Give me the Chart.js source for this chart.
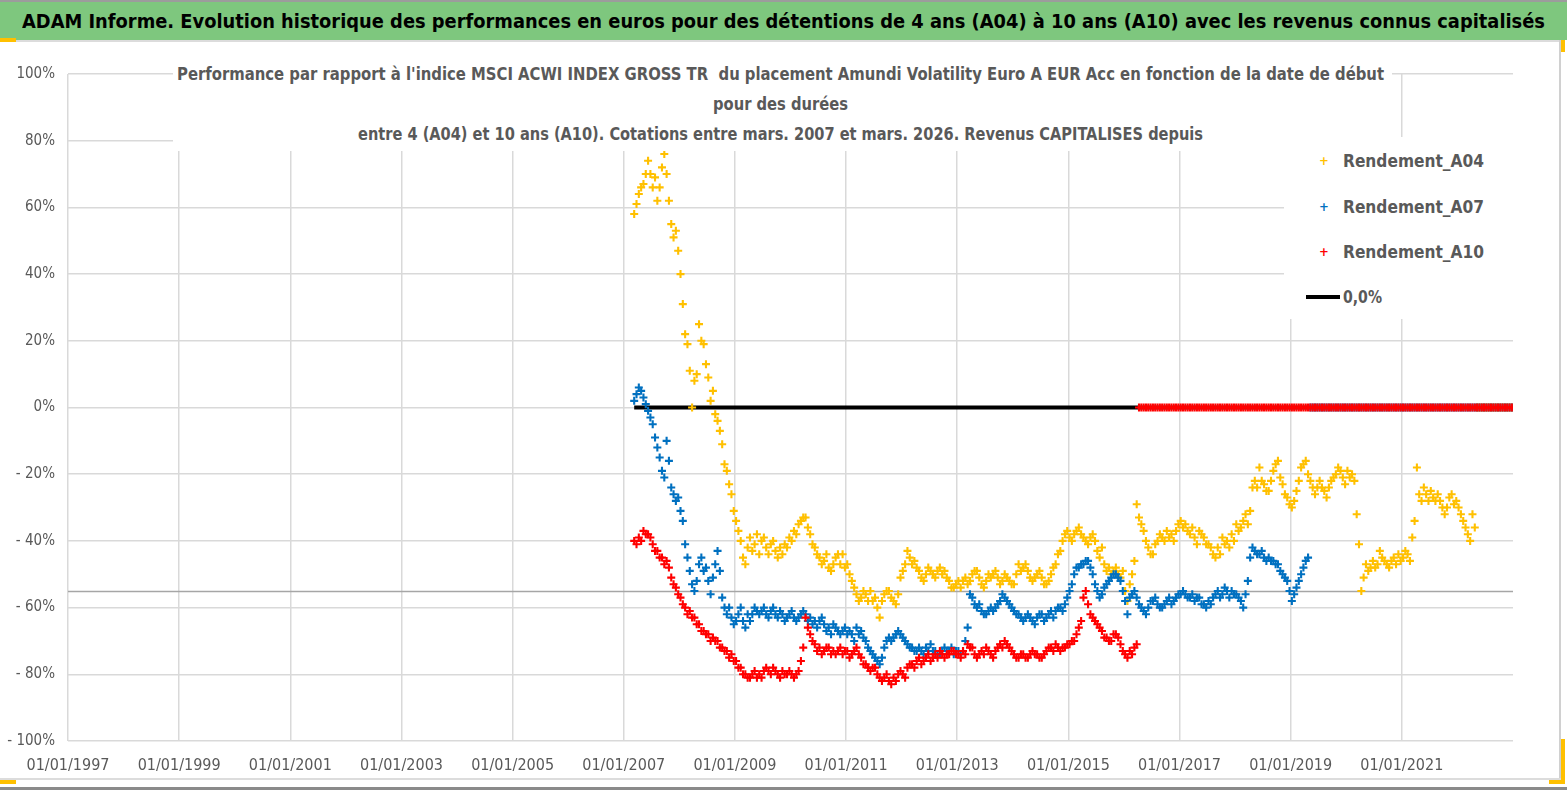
<!DOCTYPE html>
<html lang="fr">
<head>
  <meta charset="UTF-8">
  <title>ADAM Informe - Amundi Volatility Euro A EUR Acc</title>
  <style>
    body {
      margin: 0;
      width: 1567px;
      height: 790px;
      position: relative;
      overflow: hidden;
      background: #ffffff;
      font-family: 'Liberation Sans Narrow', 'DejaVu Sans Condensed', 'Roboto Condensed', sans-serif;
    }
    .abs { position: absolute; }
    .topline { left: 0; top: 0; width: 1567px; height: 2px; background: #9c9c9c; }
    .banner { left: 0; top: 2px; width: 1567px; height: 38px; background: #7ec77e; }
    .sepline { left: 0; top: 40px; width: 1560px; height: 2px; background: #dcdcdc; }
    .rightline { left: 1559px; top: 40px; width: 2px; height: 740px; background: #d0d0d0; }
    .bottomline { left: 0; top: 778px; width: 1561px; height: 2px; background: #dcdcdc; }
    .bottomdark { left: 0; top: 787px; width: 1567px; height: 3px; background: #8a8a8a; }
    .handle { background: #ffc000; }
    #chart-box { left: 0; top: 42px; width: 1560px; height: 736px; }
    .fit { white-space: nowrap; transform-origin: left center; display: inline-block; }
    .banner-text { left: 22px; top: 2px; line-height: 38px; font-size: 19px; font-weight: bold; color: #000; }
    .title-box { left: 173px; top: 58px; width: 1219px; height: 93px; background: #fff; }
    .legend-box { left: 1284px; top: 137px; width: 229px; height: 182px; background: #fff; }
    .title-line { font-size: 17px; font-weight: bold; color: #595959; line-height: 22px; }
    .legend-text { font-size: 18px; font-weight: bold; color: #595959; line-height: 22px; }
    .legend-mark { font-size: 13px; font-weight: bold; line-height: 14px; }
    .legend-line { left: 1306px; top: 295px; width: 34px; height: 4px; background: #000; }
  </style>
  <script src="https://cdn.jsdelivr.net/npm/chart.js"></script>
</head>
<body>
  <div class="abs topline"></div>
  <div class="abs banner"></div>
  <span class="abs fit banner-text" data-w="1523">ADAM Informe. Evolution historique des performances en euros pour des détentions de 4 ans (A04) à 10 ans (A10) avec les revenus connus capitalisés</span>
  <div class="abs sepline"></div>
  <div class="abs rightline"></div>
  <div class="abs bottomline"></div>
  <div class="abs bottomdark"></div>
  <div class="abs handle" style="left:0;top:38px;width:16px;height:4px"></div>
  <div class="abs handle" style="left:1561px;top:40px;width:4px;height:12px"></div>
  <div class="abs handle" style="left:0;top:780px;width:16px;height:4px"></div>
  <div class="abs handle" style="left:1561px;top:739px;width:4px;height:45px"></div>
  <div class="abs handle" style="left:1549px;top:780px;width:16px;height:4px"></div>

  <div class="abs" id="chart-box"><canvas id="perfChart"></canvas></div>

  <!-- titre et légende posés sur le graphique, fond blanc comme dans Excel -->
  <div class="abs title-box"></div>
  <span class="abs fit title-line" data-w="1207" style="left:177px;top:63px">Performance par rapport à l'indice MSCI ACWI INDEX GROSS TR&nbsp; du placement Amundi Volatility Euro A EUR Acc en fonction de la date de début</span>
  <span class="abs fit title-line" data-w="135" style="left:713px;top:93px">pour des durées</span>
  <span class="abs fit title-line" data-w="845" style="left:358px;top:123px">entre 4 (A04) et 10 ans (A10). Cotations entre mars. 2007 et mars. 2026. Revenus CAPITALISES depuis</span>

  <div class="abs legend-box"></div>
  <span class="abs legend-mark" style="left:1319px;top:154px;color:#ffc000">+</span>
  <span class="abs fit legend-text" data-w="141" style="left:1343px;top:150px">Rendement_A04</span>
  <span class="abs legend-mark" style="left:1319px;top:200px;color:#0070c0">+</span>
  <span class="abs fit legend-text" data-w="141" style="left:1343px;top:196px">Rendement_A07</span>
  <span class="abs legend-mark" style="left:1319px;top:245px;color:#ff0000">+</span>
  <span class="abs fit legend-text" data-w="141" style="left:1343px;top:241px">Rendement_A10</span>
  <div class="abs legend-line"></div>
  <span class="abs fit legend-text" data-w="39" style="left:1343px;top:286px">0,0%</span>

  <script>
    // deux relevés par mois (1re et 2e quinzaine), à partir de mars 2007
    const startYear = 2007;
    const startMonth = 3;
    const pointsPerMonth = 2;

    // Rendement_A04 (en %), mars 2007 -> nov. 2022 ; 0 quand la durée n'est pas encore écoulée
    const rendementA04 = [
      58, 61, 64, 66, 67, 70, 74, 70, 66, 69, 62, 66, 72, 76, 70, 62, 55, 51, 53, 47,
      40, 31, 22, 19, 11, 0, 8, 10, 25, 20, 19, 13, 9, 2, 5, -2, -4, -7, -11, -17,
      -19, -23, -26, -31, -34, -37, -40, -45, -47, -42, -39, -43, -41, -38, -44, -40, -39, -42, -44, -41,
      -40, -43, -45, -42, -44, -41, -42, -39, -40, -37, -38, -35, -34, -33, -33, -36, -38, -41, -42, -44,
      -45, -47, -46, -44, -48, -49, -47, -45, -44, -47, -44, -48, -47, -50, -52, -54, -56, -58, -57, -55,
      -56, -58, -55, -58, -57, -60, -63, -58, -56, -55, -55, -57, -58, -59, -56, -51, -49, -47, -43, -45,
      -47, -46, -48, -49, -51, -52, -50, -48, -49, -50, -51, -49, -48, -50, -49, -51, -52, -54, -54, -53,
      -52, -54, -52, -51, -53, -52, -50, -49, -49, -51, -53, -54, -52, -50, -51, -50, -49, -51, -53, -52,
      -50, -51, -52, -53, -53, -50, -47, -49, -48, -47, -49, -51, -52, -51, -50, -49, -51, -53, -53, -52,
      -50, -48, -47, -44, -43, -40, -38, -37, -39, -40, -38, -37, -36, -38, -39, -40, -41, -39, -38, -40,
      -43, -45, -42, -47, -49, -48, -50, -49, -48, -50, -51, -49, -55, -58, -53, -50, -46, -29, -33, -35,
      -37, -40, -42, -44, -44, -41, -40, -38, -39, -40, -37, -39, -38, -40, -37, -35, -34, -36, -35, -37,
      -38, -36, -39, -41, -37, -38, -39, -41, -41, -42, -44, -45, -42, -44, -39, -41, -40, -42, -38, -40,
      -35, -37, -36, -34, -32, -35, -31, -24, -22, -24, -18, -22, -23, -25, -25, -22, -19, -17, -16, -21,
      -23, -26, -27, -29, -30, -28, -25, -22, -18, -17, -16, -20, -22, -24, -26, -24, -22, -24, -25, -27,
      -24, -22, -21, -20, -18, -19, -21, -23, -19, -21, -20, -22, -32, -41, -55, -51, -47, -49, -48, -46,
      -48, -47, -43, -45, -46, -47, -48, -46, -45, -47, -44, -46, -45, -43, -44, -46, -39, -34, -18, -26,
      -28, -24, -26, -28, -25, -27, -28, -26, -28, -30, -32, -30, -27, -26, -29, -28, -30, -32, -34, -36,
      -38, -40, -32, -36, 0, 0, 0, 0, 0, 0, 0, 0, 0, 0, 0, 0, 0, 0, 0, 0
    ];

    // Rendement_A07 (en %)
    const rendementA07 = [
      2, 4, 6, 5, 3, 1, -1, -3, -5, -9, -12, -15, -19, -21, -10, -16, -24, -26, -28, -27,
      -31, -34, -41, -45, -49, -53, -55, -52, -47, -45, -49, -48, -52, -56, -51, -47, -43, -49, -57, -60,
      -62, -60, -63, -65, -64, -62, -60, -64, -66, -62, -64, -62, -60, -61, -62, -61, -60, -62, -63, -61,
      -60, -62, -63, -61, -62, -64, -63, -62, -61, -63, -64, -63, -62, -61, -62, -64, -63, -65, -64, -66,
      -64, -63, -65, -67, -66, -68, -65, -66, -67, -68, -67, -66, -68, -67, -68, -70, -66, -68, -67, -69,
      -70, -72, -73, -74, -75, -76, -77, -75, -72, -70, -69, -70, -69, -68, -67, -68, -69, -70, -71, -72,
      -72, -73, -73, -72, -73, -74, -72, -73, -71, -73, -73, -74, -74, -73, -72, -73, -73, -72, -74, -73,
      -73, -74, -73, -70, -66, -56, -57, -59, -60, -59, -61, -62, -62, -61, -60, -61, -60, -59, -58, -56,
      -57, -58, -59, -60, -61, -62, -62, -63, -64, -63, -62, -63, -64, -65, -63, -62, -62, -64, -63, -62,
      -61, -63, -61, -60, -60, -61, -59, -57, -55, -53, -50, -48, -48, -47, -47, -46, -46, -48, -50, -53,
      -55, -57, -56, -54, -53, -52, -51, -50, -50, -51, -52, -55, -58, -62, -57, -56, -55, -57, -59, -60,
      -61, -62, -60, -58, -58, -57, -59, -60, -60, -59, -58, -57, -59, -58, -57, -56, -56, -55, -56, -57,
      -57, -56, -58, -57, -57, -59, -59, -60, -58, -59, -57, -56, -55, -57, -56, -54, -55, -57, -55, -56,
      -56, -57, -58, -60, -56, -52, -45, -42, -43, -44, -44, -43, -45, -46, -45, -46, -46, -47, -47, -49,
      -50, -51, -52, -55, -58, -56, -54, -52, -50, -48, -46, -45, 0, 0, 0, 0, 0, 0, 0, 0,
      0, 0, 0, 0, 0, 0, 0, 0, 0, 0, 0, 0, 0, 0, 0, 0, 0, 0, 0, 0,
      0, 0, 0, 0, 0, 0, 0, 0, 0, 0, 0, 0, 0, 0, 0, 0, 0, 0, 0, 0,
      0, 0, 0, 0, 0, 0, 0, 0, 0, 0, 0, 0, 0, 0, 0, 0, 0, 0, 0, 0,
      0, 0, 0, 0, 0, 0, 0, 0, 0, 0, 0, 0, 0, 0, 0, 0, 0, 0, 0, 0
    ];

    // Rendement_A10 (en %)
    const rendementA10 = [
      -40, -41, -39, -40, -37, -38, -38, -39, -41, -43, -43, -45, -45, -47, -46, -48, -51, -53, -54, -56,
      -57, -59, -60, -62, -61, -63, -63, -65, -65, -67, -67, -68, -68, -70, -69, -70, -70, -72, -72, -73,
      -73, -75, -74, -76, -76, -78, -78, -80, -80, -81, -81, -80, -79, -81, -80, -81, -79, -78, -79, -80,
      -78, -79, -80, -81, -79, -80, -80, -79, -80, -81, -80, -79, -76, -72, -63, -66, -68, -70, -71, -73,
      -72, -74, -73, -72, -72, -74, -73, -74, -73, -72, -74, -73, -73, -75, -74, -73, -72, -74, -75, -77,
      -77, -78, -79, -78, -78, -80, -81, -82, -81, -80, -82, -83, -81, -82, -80, -79, -80, -81, -78, -77,
      -77, -78, -76, -75, -77, -76, -75, -74, -76, -75, -74, -75, -73, -74, -75, -74, -74, -73, -73, -74,
      -74, -75, -73, -74, -71, -72, -72, -74, -75, -74, -73, -74, -72, -73, -74, -75, -73, -72, -71, -72,
      -70, -71, -72, -73, -74, -75, -75, -74, -74, -75, -75, -74, -73, -74, -74, -75, -75, -74, -73, -72,
      -72, -73, -71, -72, -73, -72, -72, -71, -71, -70, -70, -68, -66, -64, -57, -55, -59, -62, -63, -64,
      -65, -66, -67, -69, -69, -70, -70, -68, -68, -69, -71, -73, -74, -75, -73, -74, -72, -71, 0, 0,
      0, 0, 0, 0, 0, 0, 0, 0, 0, 0, 0, 0, 0, 0, 0, 0, 0, 0, 0, 0,
      0, 0, 0, 0, 0, 0, 0, 0, 0, 0, 0, 0, 0, 0, 0, 0, 0, 0, 0, 0,
      0, 0, 0, 0, 0, 0, 0, 0, 0, 0, 0, 0, 0, 0, 0, 0, 0, 0, 0, 0,
      0, 0, 0, 0, 0, 0, 0, 0, 0, 0, 0, 0, 0, 0, 0, 0, 0, 0, 0, 0,
      0, 0, 0, 0, 0, 0, 0, 0, 0, 0, 0, 0, 0, 0, 0, 0, 0, 0, 0, 0,
      0, 0, 0, 0, 0, 0, 0, 0, 0, 0, 0, 0, 0, 0, 0, 0, 0, 0, 0, 0,
      0, 0, 0, 0, 0, 0, 0, 0, 0, 0, 0, 0, 0, 0, 0, 0, 0, 0, 0, 0,
      0, 0, 0, 0, 0, 0, 0, 0, 0, 0, 0, 0, 0, 0, 0, 0, 0, 0, 0, 0
    ];

    const zeroLevel = 0;        // série "0,0%"
    const averageLevel = -55.2; // trait gris horizontal

    const xTickYears = [1997, 1999, 2001, 2003, 2005, 2007, 2009, 2011, 2013, 2015, 2017, 2019, 2021];
    const yTickValues = [-100, -80, -60, -40, -20, 0, 20, 40, 60, 80, 100];
    const xMin = 1997, xMax = 2023;

    // position d'un relevé (indice de quinzaine) en années décimales
    function stepToYear(i) {
      return startYear + (startMonth - 1 + (i + 0.5) / pointsPerMonth) / 12;
    }
    function toPoints(values) {
      return values.map((v, i) => ({ x: stepToYear(i), y: v }));
    }
    function pctLabel(v) {
      return v < 0 ? '- ' + Math.abs(v) + '%' : v + '%';
    }

    const lastIndex = rendementA04.length - 1;
    Chart.defaults.font.family = "'Liberation Sans Narrow', 'DejaVu Sans Condensed', 'Roboto Condensed', sans-serif";

    function crossSeries(label, values, color, order) {
      return {
        label: label,
        data: toPoints(values),
        pointStyle: 'cross',
        pointRadius: 4,
        pointBorderWidth: 2.1,
        borderColor: color,
        backgroundColor: color,
        showLine: false,
        order: order
      };
    }

    new Chart(document.getElementById('perfChart'), {
      type: 'scatter',
      data: {
        datasets: [
          crossSeries('Rendement_A10', rendementA10, '#ff0000', 1),
          crossSeries('Rendement_A07', rendementA07, '#0070c0', 2),
          crossSeries('Rendement_A04', rendementA04, '#ffc000', 3),
          {
            label: '0,0%',
            data: [{ x: stepToYear(0), y: zeroLevel }, { x: stepToYear(lastIndex), y: zeroLevel }],
            showLine: true,
            borderColor: '#000000',
            borderWidth: 4,
            pointRadius: 0,
            order: 4
          },
          {
            label: 'moyenne',
            data: [{ x: xMin, y: averageLevel }, { x: xMax, y: averageLevel }],
            showLine: true,
            borderColor: '#a6a6a6',
            borderWidth: 1.5,
            pointRadius: 0,
            order: 5
          }
        ]
      },
      options: {
        responsive: true,
        maintainAspectRatio: false,
        animation: false,
        events: [],
        layout: { padding: { left: 0, top: 32, right: 47, bottom: 0 } },
        plugins: {
          legend: { display: false },
          title: { display: false },
          tooltip: { enabled: false }
        },
        scales: {
          x: {
            type: 'linear',
            min: xMin,
            max: xMax,
            afterBuildTicks: s => { s.ticks = xTickYears.map(v => ({ value: v })); },
            afterFit: s => { s.height = 37; },
            border: { display: false },
            grid: { color: '#d9d9d9', lineWidth: 1.5, drawTicks: false },
            ticks: {
              padding: 15,
              color: '#595959',
              font: { size: 16 },
              maxRotation: 0,
              autoSkip: false,
              callback: v => '01/01/' + v
            }
          },
          y: {
            min: -100,
            max: 100,
            afterBuildTicks: s => { s.ticks = yTickValues.map(v => ({ value: v })); },
            afterFit: s => { s.width = 68; },
            border: { display: false },
            grid: { color: '#d9d9d9', lineWidth: 1.5, drawTicks: false },
            ticks: {
              padding: 13,
              color: '#595959',
              font: { size: 15 },
              callback: v => pctLabel(v)
            }
          }
        }
      }
    });

    // ajuste la largeur des textes sur celle du modèle
    function fitTexts() {
      document.querySelectorAll('.fit').forEach(el => {
        el.style.transform = 'none';
        const w = el.getBoundingClientRect().width;
        const target = parseFloat(el.dataset.w);
        if (w > 0) el.style.transform = 'scaleX(' + (target / w) + ')';
      });
    }
    fitTexts();
    if (document.fonts && document.fonts.ready) document.fonts.ready.then(fitTexts);
  </script>
</body>
</html>
